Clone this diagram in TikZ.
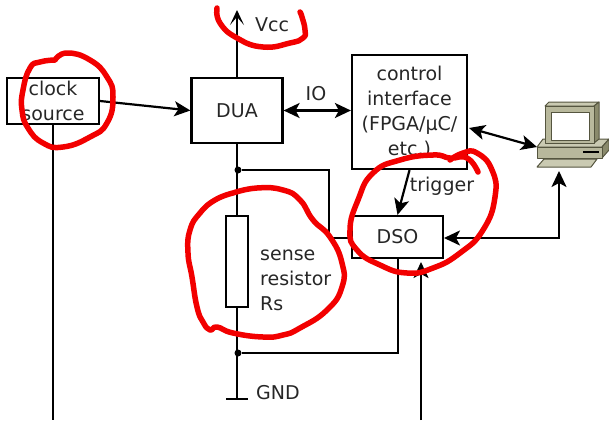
\documentclass[tikz,border=0pt]{standalone}
\usepackage{fontspec}
\setmainfont{DejaVu Sans}
\usetikzlibrary{arrows.meta,calc}
\definecolor{ink}{HTML}{262626}
\definecolor{pcface}{HTML}{B8B89C}
\definecolor{pctop}{HTML}{CACAB2}
\definecolor{pcside}{HTML}{8A8A6C}
\definecolor{pcedge}{HTML}{55553F}
\tikzset{
  blockbox/.style={draw=black,line width=2.2pt,rectangle,inner sep=0pt,text=ink,align=center,font=\fontsize{19}{25}\selectfont},
  lbl/.style={text=ink,inner sep=0pt,align=left,font=\fontsize{19}{25}\selectfont},
  wire/.style={line width=2.2pt,draw=black,line join=miter},
  arr/.style={wire,-{Stealth[length=16pt,width=15pt,inset=4pt]}},
  darr/.style={wire,{Stealth[length=16pt,width=15pt,inset=4pt]}-{Stealth[length=16pt,width=15pt,inset=4pt]}},
  openarr/.style={wire,-{Stealth[length=15pt,width=14pt,inset=8pt]}},
  junction/.style={circle,fill=black,inner sep=0pt,minimum size=7pt},
  pcpart/.style={draw=pcedge,line width=1pt,line join=round},
  redink/.style={draw=red!95!black,line width=5.5pt,line cap=round,line join=round},
}
\begin{document}
\begin{tikzpicture}[x=1pt,y=-1pt]
\useasboundingbox (0,0) rectangle (609,420);
% blocks
\node[blockbox,minimum width=92pt,minimum height=46pt] (clock) at (53,101) {clock\\source};
\node[blockbox,minimum width=91pt,minimum height=65pt] (dua) at (237,110.5) {DUA};
\node[blockbox,minimum width=115pt,minimum height=114pt] (control) at (409.5,112) {control\\interface\\(FPGA/µC/\\etc.)};
\node[blockbox,minimum width=91pt,minimum height=42pt] (dso) at (397.5,237) {DSO};
\node[blockbox,minimum width=22pt,minimum height=91pt] (res) at (237,261.5) {};
\node[junction] (j1) at (238,170) {};
\node[junction] (j2) at (238,353) {};
% named free ends
\coordinate (vcc) at (237,10);
\coordinate (gnd) at (237,399);
\coordinate (gndl) at (226,399);
\coordinate (gndr) at (248,399);
\coordinate (c1) at (329,170);
\coordinate (c2) at (329,238);
\coordinate (c3) at (398,353);
\coordinate (clockend) at (53,420);
\coordinate (ctrlr) at (469,128);
\coordinate (pcl) at (537,147);
\coordinate (pcd) at (559,171);
\coordinate (pcc) at (559,238);
\coordinate (dsor) at (444,238);
\coordinate (dsob) at (421,262);
\coordinate (dsobend) at (421,420);
% connectors
\draw[openarr] (dua.north) -- (vcc);
\draw[wire] (dua.south) -- (res.north);
\draw[wire] (res.south) -- (gnd);
\draw[wire] (gndl) -- (gndr);
\draw[wire] (clock.south) -- (clockend);
\draw[arr] (clock.east) -- (dua.west);
\draw[darr] (dua.east) -- (dua.east -| control.west);
\draw[darr] (ctrlr) -- (pcl);
\draw[arr] (control.south) -- (dso.north);
\draw[wire] (j1) -- (c1) -- (c2) -- (c2 -| dso.west);
\draw[wire] (j2) -- (c3) -- (dso.south -| c3);
\draw[arr] (dsobend) -- (dsob);
\draw[darr] (dsor) -- (pcc) -- (pcd);
% labels
\node[lbl,anchor=west] (vcclabel) at (255,25) {Vcc};
\node[lbl,anchor=center] (iolabel) at (316,94) {IO};
\node[lbl,anchor=center] (triglabel) at (442,186) {trigger};
\node[lbl,anchor=west] (reslabel) at (260,280) {sense\\resistor\\Rs};
\node[lbl,anchor=west] (gndlabel) at (256,393) {GND};
% computer
\filldraw[pcpart,fill=pctop] (537,167) -- (544,159) -- (597,159) -- (591,167) -- cycle;
\filldraw[pcpart,fill=pctop] (537,147) -- (543,139) -- (609,139) -- (602,147) -- cycle;
\filldraw[pcpart,fill=pcside] (602,147) -- (609,139) -- (609,150) -- (602,158) -- cycle;
\filldraw[pcpart,fill=pcface] (537,147) rectangle (602,158);
\draw[black,line width=2pt] (583,151.5) -- (599,151.5);
\filldraw[pcpart,fill=pctop] (545,106) -- (549,102) -- (599,102) -- (594,106) -- cycle;
\filldraw[pcpart,fill=pcside] (594,106) -- (599,102) -- (599,139) -- (594,143) -- cycle;
\filldraw[pcpart,fill=pcface] (545,106) rectangle (594,143);
\filldraw[pcpart,fill=white] (551,112) rectangle (589,140);
% red annotations
\draw[redink] plot[smooth,tension=0.85] coordinates {(217,8) (220,23) (237,38) (263,47) (290,43) (303,38) (305,30) (302,17) (300,12)};
\draw[redink] plot[smooth,tension=0.85] coordinates {(55,60) (67,53) (90,60) (107,77) (113,97) (107,123) (90,137) (63,147) (43,143) (28,128) (22,110) (23,90) (30,68) (40,62) (55,60)};
\draw[redink] plot[smooth,tension=0.85] coordinates {(233,193) (257,188) (283,190) (300,200) (313,220) (330,237) (342,263) (342,287) (327,310) (300,328) (283,335) (263,337) (233,333) (217,327) (210,330) (203,322) (197,307) (192,277) (188,253) (190,230) (200,213) (215,200) (233,193)};
\draw[redink] plot[smooth,tension=0.85] coordinates {(478,172) (467,158) (450,158) (433,155) (400,160) (373,173) (358,200) (350,230) (357,250) (380,265) (407,273) (433,268) (460,253) (483,230) (495,197) (492,170) (477,153) (463,153) (450,160)};
\end{tikzpicture}
\end{document}
